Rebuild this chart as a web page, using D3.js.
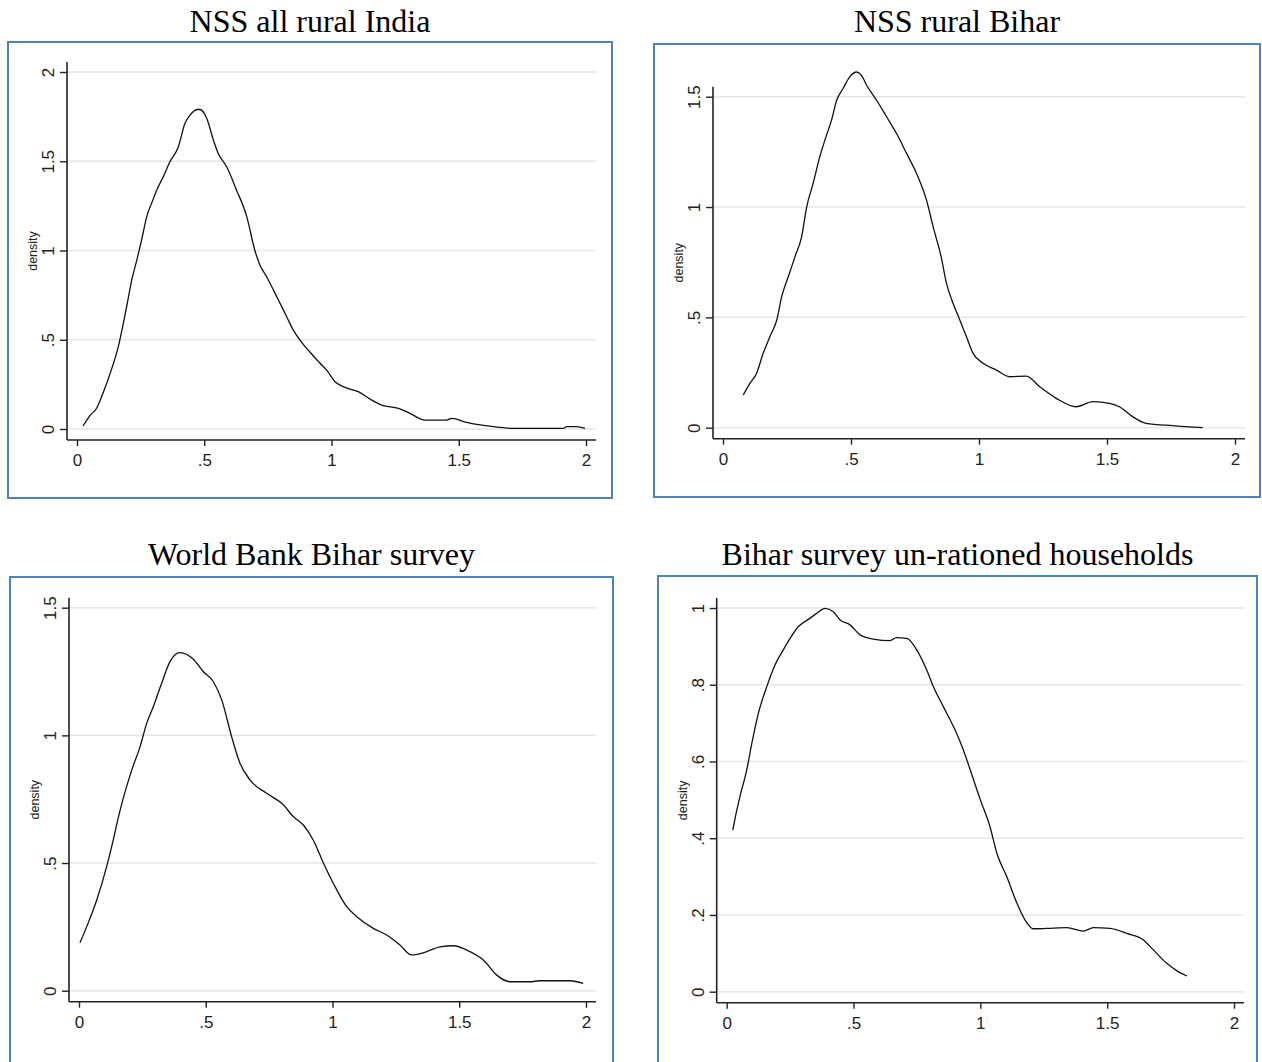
<!DOCTYPE html>
<html>
<head>
<meta charset="utf-8">
<script src="https://cdn.jsdelivr.net/npm/d3@7"></script>
<style>
  body { margin: 0; background: #fff; }
  svg { display: block; }
</style>
</head>
<body>
<div id="vis"></div>
<script>
// density curves
const titles = ["NSS all rural India", "NSS rural Bihar", "World Bank Bihar survey", "Bihar survey un-rationed households"];
const xTicks = [0, 0.5, 1, 1.5, 2];

const indiaX = [0.024, 0.051, 0.077, 0.102, 0.13, 0.162, 0.195, 0.215, 0.235, 0.254, 0.274, 0.293, 0.313, 0.339, 0.365, 0.398, 0.424, 0.444, 0.474, 0.483, 0.51, 0.536, 0.555, 0.588, 0.627, 0.667, 0.699, 0.719, 0.745, 0.785, 0.824, 0.85, 0.876, 0.916, 0.955, 0.981, 1.014, 1.046, 1.105, 1.158, 1.197, 1.263, 1.308, 1.367, 1.453, 1.472, 1.531, 1.636, 1.714, 1.91, 1.924, 1.963, 1.996];
const indiaY = [0.018, 0.075, 0.116, 0.20, 0.31, 0.46, 0.685, 0.834, 0.946, 1.06, 1.19, 1.264, 1.338, 1.413, 1.497, 1.58, 1.712, 1.758, 1.79, 1.79, 1.74, 1.618, 1.544, 1.469, 1.338, 1.19, 1.0, 0.918, 0.853, 0.741, 0.629, 0.554, 0.498, 0.43, 0.368, 0.33, 0.265, 0.237, 0.209, 0.162, 0.134, 0.116, 0.088, 0.05, 0.05, 0.06, 0.037, 0.013, 0.004, 0.004, 0.013, 0.013, 0.004];
const indiaYTicks = [0, 0.5, 1, 1.5, 2];

const biharX = [0.079, 0.105, 0.131, 0.157, 0.183, 0.21, 0.229, 0.255, 0.281, 0.307, 0.327, 0.352, 0.378, 0.398, 0.424, 0.444, 0.469, 0.495, 0.522, 0.541, 0.561, 0.6, 0.639, 0.678, 0.717, 0.756, 0.795, 0.821, 0.853, 0.873, 0.899, 0.925, 0.951, 0.977, 1.016, 1.068, 1.12, 1.185, 1.237, 1.302, 1.38, 1.445, 1.51, 1.548, 1.6, 1.652, 1.757, 1.874];
const biharY = [0.148, 0.201, 0.246, 0.337, 0.412, 0.488, 0.593, 0.684, 0.774, 0.865, 1.001, 1.107, 1.227, 1.303, 1.394, 1.484, 1.537, 1.59, 1.612, 1.597, 1.552, 1.484, 1.409, 1.333, 1.243, 1.152, 1.031, 0.91, 0.77, 0.654, 0.563, 0.488, 0.412, 0.337, 0.292, 0.261, 0.231, 0.234, 0.186, 0.133, 0.095, 0.118, 0.11, 0.095, 0.05, 0.02, 0.009, 0.0];
const biharYTicks = [0, 0.5, 1, 1.5];

const wbX = [0.004, 0.03, 0.07, 0.109, 0.135, 0.155, 0.175, 0.208, 0.241, 0.267, 0.293, 0.326, 0.359, 0.398, 0.451, 0.49, 0.53, 0.563, 0.602, 0.635, 0.675, 0.74, 0.806, 0.845, 0.885, 0.924, 0.964, 1.003, 1.056, 1.096, 1.161, 1.214, 1.266, 1.312, 1.372, 1.424, 1.477, 1.542, 1.595, 1.648, 1.7, 1.779, 1.818, 1.937, 1.989];
const wbY = [0.188, 0.25, 0.355, 0.486, 0.59, 0.678, 0.755, 0.864, 0.956, 1.047, 1.112, 1.204, 1.289, 1.324, 1.298, 1.25, 1.21, 1.139, 0.995, 0.891, 0.825, 0.773, 0.728, 0.682, 0.649, 0.59, 0.5, 0.421, 0.329, 0.29, 0.244, 0.218, 0.179, 0.14, 0.153, 0.172, 0.176, 0.153, 0.12, 0.061, 0.035, 0.035, 0.039, 0.039, 0.029];
const wbYTicks = [0, 0.5, 1, 1.5];

const unratX = [0.024, 0.033, 0.052, 0.079, 0.099, 0.125, 0.158, 0.19, 0.223, 0.25, 0.282, 0.328, 0.355, 0.388, 0.42, 0.447, 0.486, 0.526, 0.578, 0.644, 0.67, 0.71, 0.749, 0.789, 0.815, 0.854, 0.894, 0.92, 1.0, 1.038, 1.065, 1.104, 1.144, 1.176, 1.209, 1.262, 1.341, 1.406, 1.446, 1.511, 1.577, 1.643, 1.682, 1.735, 1.774, 1.814];
const unratY = [0.421, 0.452, 0.508, 0.578, 0.647, 0.726, 0.795, 0.851, 0.891, 0.921, 0.951, 0.973, 0.986, 0.999, 0.99, 0.969, 0.956, 0.93, 0.919, 0.915, 0.923, 0.921, 0.891, 0.838, 0.795, 0.743, 0.691, 0.652, 0.5, 0.43, 0.361, 0.3, 0.231, 0.187, 0.164, 0.165, 0.167, 0.158, 0.167, 0.165, 0.152, 0.135, 0.109, 0.074, 0.055, 0.041];
const unratYTicks = [0, 0.2, 0.4, 0.6, 0.8, 1];

const W = 1262, H = 1062;
const svg = d3.select("#vis").append("svg")
    .attr("width", W)
    .attr("height", H);

// where each graph sits on the page
const panels = [
  {title: titles[0], xs: indiaX, ys: indiaY, yTicks: indiaYTicks,
   box: [8, 42, 604, 456], x0: 77, x2: 586, y0: 429, yTop: 72, titleY: 32},
  {title: titles[1], xs: biharX, ys: biharY, yTicks: biharYTicks,
   box: [654, 44, 606, 453], x0: 723, x2: 1235, y0: 427.7, yTop: 96.7, titleY: 32},
  {title: titles[2], xs: wbX, ys: wbY, yTicks: wbYTicks,
   box: [10, 577, 603, 520], x0: 79, x2: 586, y0: 990.7, yTop: 607.7, titleY: 565},
  {title: titles[3], xs: unratX, ys: unratY, yTicks: unratYTicks,
   box: [658, 576, 599, 520], x0: 726.7, x2: 1234, y0: 991.7, yTop: 608, titleY: 565}
];

const fmt = d => d === 0 ? "0" : String(d).replace(/^0\./, ".");

panels.forEach(p => {
  const [bx, by, bw, bh] = p.box;
  const yMax = p.yTicks[p.yTicks.length - 1];

  const X_SCALE = d3.scaleLinear().domain([0, 2]).range([p.x0, p.x2]);
  const Y_SCALE = d3.scaleLinear().domain([0, yMax]).range([p.y0, p.yTop]);

  const axisX = p.x0 - 10;           // y axis spine sits left of x = 0
  const axisY = p.y0 + 11;           // x axis spine sits below y = 0
  const top = p.yTop - 10;
  const right = p.x2 + 10;

  // title
  svg.append("text")
      .attr("x", bx + bw / 2)
      .attr("y", p.titleY)
      .attr("text-anchor", "middle")
      .attr("font-family", "'Liberation Serif', 'Times New Roman', serif")
      .attr("font-size", "32px")
      .attr("fill", "#000")
      .text(p.title);

  // blue frame
  svg.append("rect")
      .attr("x", bx).attr("y", by)
      .attr("width", bw).attr("height", bh)
      .attr("fill", "#fff")
      .attr("stroke", "#4f81bd")
      .attr("stroke-width", 2);

  // gridlines
  svg.append("g").selectAll("line")
      .data(p.yTicks)
      .enter()
      .append("line")
        .attr("x1", axisX).attr("x2", right)
        .attr("y1", d => Y_SCALE(d)).attr("y2", d => Y_SCALE(d))
        .attr("stroke", "#e6e6e6")
        .attr("stroke-width", 1.5);

  // y axis
  const gy = svg.append("g")
      .attr("transform", "translate(" + axisX + ",0)")
      .call(d3.axisLeft(Y_SCALE).tickValues(p.yTicks).tickFormat(fmt).tickSize(7).tickSizeOuter(0));
  gy.select(".domain").remove();
  gy.selectAll(".tick line").attr("stroke", "#222").attr("stroke-width", 1.4);
  gy.selectAll(".tick text")
      .attr("transform", "rotate(-90)")
      .attr("x", 0).attr("y", -19).attr("dy", "0.36em")
      .attr("text-anchor", "middle")
      .attr("font-family", "'Liberation Sans', Arial, sans-serif")
      .attr("font-size", "17px")
      .attr("fill", "#222");
  svg.append("line")
      .attr("x1", axisX).attr("x2", axisX)
      .attr("y1", top).attr("y2", axisY)
      .attr("stroke", "#222").attr("stroke-width", 1.6);

  // x axis
  const gx = svg.append("g")
      .attr("transform", "translate(0," + axisY + ")")
      .call(d3.axisBottom(X_SCALE).tickValues(xTicks).tickFormat(fmt).tickSize(6).tickSizeOuter(0));
  gx.select(".domain").remove();
  gx.selectAll(".tick line").attr("stroke", "#222").attr("stroke-width", 1.4);
  gx.selectAll(".tick text")
      .attr("y", 20).attr("dy", "0.36em")
      .attr("font-family", "'Liberation Sans', Arial, sans-serif")
      .attr("font-size", "17px")
      .attr("fill", "#222");
  svg.append("line")
      .attr("x1", axisX).attr("x2", right)
      .attr("y1", axisY).attr("y2", axisY)
      .attr("stroke", "#222").attr("stroke-width", 1.6);

  // y title
  const midY = (top + axisY) / 2;
  svg.append("text")
      .attr("transform", "translate(" + (axisX - 34) + "," + midY + ") rotate(-90)")
      .attr("text-anchor", "middle")
      .attr("dy", "0.35em")
      .attr("font-family", "'Liberation Sans', Arial, sans-serif")
      .attr("font-size", "12.5px")
      .attr("fill", "#222")
      .text("density");

  // density curve
  const pts = p.xs.map((x, i) => [x, p.ys[i]]);
  svg.append("path")
      .datum(pts)
      .attr("fill", "none")
      .attr("stroke", "#111")
      .attr("stroke-width", 1.3)
      .attr("d", d3.line()
          .x(d => X_SCALE(d[0]))
          .y(d => Y_SCALE(d[1]))
          .curve(d3.curveMonotoneX));
});
</script>
</body>
</html>
